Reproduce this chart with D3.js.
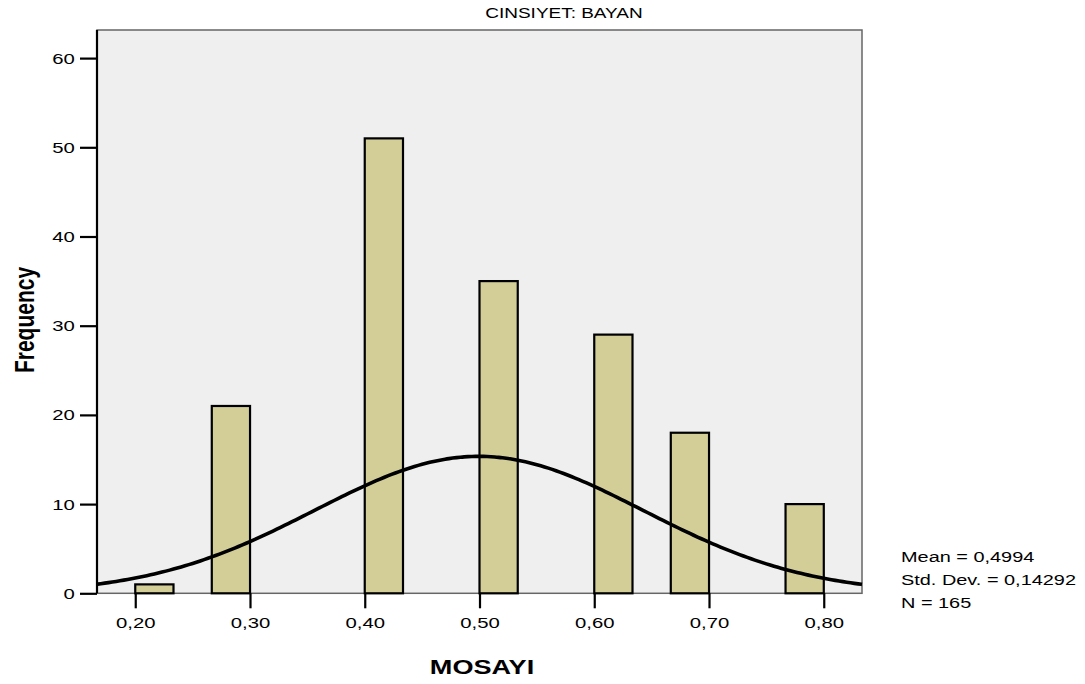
<!DOCTYPE html>
<html><head><meta charset="utf-8">
<script src="https://cdn.jsdelivr.net/npm/d3@7"></script>
<style>body{margin:0;background:#fff}svg{display:block}text{font-family:"Liberation Sans",Arial,sans-serif}</style>
</head><body><svg id="c" width="1085" height="684"></svg>
<script>
const binStarts = [0.2,0.2333,0.2667,0.3,0.3333,0.3667,0.4,0.4333,0.4667,0.5,0.5333,0.5667,0.6,0.6333,0.6667,0.7,0.7333,0.7667];
const counts    = [1,0,21,0,0,0,51,0,0,35,0,0,29,0,18,0,0,10];
const binWidth = 1/30;
const xTicks = [0.2,0.3,0.4,0.5,0.6,0.7,0.8];
const yTicks = [0,10,20,30,40,50,60];
const statMean = 0.4994, statSD = 0.14292, statN = 165;
const statLabels = ["Mean = 0,4994","Std. Dev. = 0,14292","N = 165"];
const title = "CINSIYET: BAYAN", xTitle = "MOSAYI", yTitle = "Frequency";

const svg = d3.select("#c");
const SX = 1.31;
const L=97,R=862,T=30,B=593.3;
const x = d3.scaleLinear().domain([1/6,5/6]).range([L,R]);
const y = d3.scaleLinear().domain([0,63.15]).range([B,T]);

svg.append("rect").attr("x",L).attr("y",T).attr("width",R-L).attr("height",B-T)
  .attr("fill","#efefef").attr("stroke","#666").attr("stroke-width",1.5);

const fmt = v => d3.format(".2f")(v).replace(".",",");

// bars
svg.append("g").selectAll("rect").data(binStarts).join("rect")
  .attr("x",d=>x(d)).attr("width",d=>x(d+binWidth)-x(d))
  .attr("y",(d,i)=>y(counts[i])).attr("height",(d,i)=>y(0)-y(counts[i]))
  .attr("fill","#d3ce98").attr("stroke","#000").attr("stroke-width",2.2);

// normal curve
const pts = d3.range(0,201).map(i=>1/6+i*(4/6)/200);
const peak = statN*binWidth/(statSD*Math.sqrt(2*Math.PI));
const line = d3.line().x(d=>x(d)).y(d=>y(peak*Math.exp(-0.5*Math.pow((d-statMean)/statSD,2)))).curve(d3.curveBasis);
svg.append("path").attr("d",line(pts)).attr("fill","none").attr("stroke","#000").attr("stroke-width",3.6);

// left axis line
svg.append("line").attr("x1",L).attr("x2",L).attr("y1",T).attr("y2",B).attr("stroke","#000").attr("stroke-width",2.2);
// y axis
const ya = svg.append("g").attr("transform",`translate(${L},0)`).call(d3.axisLeft(y).tickValues(yTicks).tickSize(17).tickPadding(5).tickFormat(d3.format("d")));
ya.select(".domain").remove();
ya.selectAll("line").attr("stroke","#000").attr("stroke-width",2.2);
ya.selectAll(".tick text").attr("font-size",15.5).attr("fill","#000")
  .attr("transform",`translate(-21,0) scale(${SX},1) translate(21,0)`);
// x axis
const xa = svg.append("g").attr("transform",`translate(0,${B})`).call(d3.axisBottom(x).tickValues(xTicks).tickSize(15).tickPadding(9).tickFormat(fmt));
xa.select(".domain").remove();
xa.selectAll("line").attr("stroke","#000").attr("stroke-width",2.2);
xa.selectAll("text").attr("font-size",15.5).attr("fill","#000").attr("transform",`scale(${SX},1)`);

// titles
svg.append("text").attr("transform",`translate(564,18) scale(${SX},1)`).attr("text-anchor","middle")
  .attr("font-size",14.5).text(title);
svg.append("text").attr("transform",`translate(482,674) scale(1.29,1)`).attr("text-anchor","middle")
  .attr("font-size",21).attr("font-weight","bold").text(xTitle);
svg.append("text").attr("transform",`translate(34,320) scale(1.32,1) rotate(-90)`).attr("text-anchor","middle")
  .attr("font-size",21).attr("font-weight","bold").text(yTitle);

// stats
svg.append("g").selectAll("text").data(statLabels).join("text")
  .attr("transform",(d,i)=>`translate(901,${561.5+i*23}) scale(${SX},1)`)
  .attr("font-size",15.2).text(d=>d);
</script></body></html>
